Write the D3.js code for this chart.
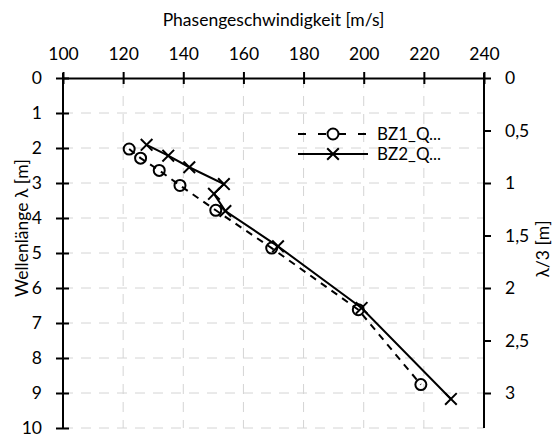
<!DOCTYPE html>
<html>
<head>
<meta charset="utf-8">
<script src="https://cdn.jsdelivr.net/npm/d3@7"></script>
<style>
  body { margin: 0; background: #fff; }
  text { font-family: Lato, "Liberation Sans", sans-serif; fill: #000; }
  .axis path, .axis line { stroke: #000; stroke-width: 2; }
  .grid { stroke: #d4d4d4; stroke-width: 1; stroke-dasharray: 10,8; }
</style>
</head>
<body>
<svg id="chart" width="555" height="437"></svg>
<script>
// top axis: phase velocity
var speedTicks = [100, 120, 140, 160, 180, 200, 220, 240];
// left axis: wavelength
var lambdaTicks = [0, 1, 2, 3, 4, 5, 6, 7, 8, 9, 10];
// right axis: lambda / 3
var thirdTicks = [0, 0.5, 1, 1.5, 2, 2.5, 3];

var seriesNames = ["BZ1_Q...", "BZ2_Q..."];

var bz1Speed = [122, 125.8, 132, 138.9, 150.8, 169.4, 198.2, 219];
var bz1Lambda = [2.03, 2.29, 2.64, 3.07, 3.78, 4.86, 6.62, 8.76];

var bz2Speed = [127.8, 135, 142, 153.5, 150.2, 154, 171.5, 199.3, 229];
var bz2Lambda = [1.91, 2.22, 2.55, 3.03, 3.31, 3.8, 4.81, 6.57, 9.17];

var svg = d3.select("#chart");

var plotL = 63, plotR = 484, plotT = 78, plotB = 428;
var fs = "17.5px";

var x = d3.scaleLinear().domain([100, 240]).range([plotL, plotR]);
var y = d3.scaleLinear().domain([0, 10]).range([plotT, plotB]);
var y3 = d3.scaleLinear().domain([0, 10 / 3]).range([plotT, plotB]);

var comma = d3.formatLocale({decimal: ",", thousands: ".", grouping: [3], currency: ["", "€"]}).format("~g");

// gridlines
svg.append("g").selectAll("line")
    .data(speedTicks.slice(1, -1))
    .enter().append("line")
    .attr("class", "grid")
    .attr("x1", function(d) { return x(d); })
    .attr("x2", function(d) { return x(d); })
    .attr("y1", plotT)
    .attr("y2", plotB);

svg.append("g").selectAll("line")
    .data(lambdaTicks.slice(1))
    .enter().append("line")
    .attr("class", "grid")
    .attr("x1", plotL)
    .attr("x2", plotR)
    .attr("y1", function(d) { return y(d); })
    .attr("y2", function(d) { return y(d); });

// axes
var topAxis = svg.append("g")
    .attr("class", "axis")
    .attr("transform", "translate(0," + plotT + ")")
    .call(d3.axisTop(x).tickValues(speedTicks).tickSize(6).tickSizeOuter(0).tickPadding(12));
topAxis.selectAll(".tick line").attr("y2", -6).attr("y1", 6);
topAxis.selectAll("text").style("font-size", fs);

var leftAxis = svg.append("g")
    .attr("class", "axis")
    .attr("transform", "translate(" + plotL + ",0)")
    .call(d3.axisLeft(y).tickValues(lambdaTicks).tickSize(7).tickSizeOuter(0).tickPadding(14));
leftAxis.selectAll(".tick line").attr("x1", 6).attr("x2", -7);
leftAxis.selectAll("text").style("font-size", fs);

var rightAxis = svg.append("g")
    .attr("class", "axis")
    .attr("transform", "translate(" + plotR + ",0)")
    .call(d3.axisRight(y3).tickValues(thirdTicks).tickSize(7).tickSizeOuter(0).tickPadding(14).tickFormat(comma));
rightAxis.selectAll("text").style("font-size", fs);
rightAxis.select(".domain").attr("d", "M0," + (plotT - 5) + "V" + plotB);
leftAxis.select(".domain").attr("d", "M0," + (plotT - 5) + "V" + plotB);

// titles
svg.append("text")
    .attr("x", (plotL + plotR) / 2)
    .attr("y", 26)
    .attr("text-anchor", "middle")
    .style("font-size", fs)
    .text("Phasengeschwindigkeit [m/s]");

svg.append("text")
    .attr("transform", "translate(28," + 228 + ")rotate(-90)")
    .attr("text-anchor", "middle")
    .style("font-size", fs)
    .text("Wellenlänge λ [m]");

svg.append("text")
    .attr("transform", "translate(549," + 249 + ")rotate(-90)")
    .attr("text-anchor", "middle")
    .style("font-size", fs)
    .text("λ/3 [m]");

// series
var bz1 = bz1Speed.map(function(d, i) { return {v: d, l: bz1Lambda[i]}; });
var bz2 = bz2Speed.map(function(d, i) { return {v: d, l: bz2Lambda[i]}; });

var line = d3.line()
    .x(function(d) { return x(d.v); })
    .y(function(d) { return y(d.l); });

svg.append("path")
    .attr("d", line(bz1))
    .attr("fill", "none")
    .attr("stroke", "#000")
    .attr("stroke-width", 2)
    .attr("stroke-dasharray", "7,6");

svg.append("path")
    .attr("d", line(bz2))
    .attr("fill", "none")
    .attr("stroke", "#000")
    .attr("stroke-width", 2);

svg.append("g").selectAll("circle")
    .data(bz1)
    .enter().append("circle")
    .attr("cx", function(d) { return x(d.v); })
    .attr("cy", function(d) { return y(d.l); })
    .attr("r", 5.5)
    .attr("fill", "none")
    .attr("stroke", "#000")
    .attr("stroke-width", 2);

var cross = d3.symbol().type(d3.symbolX).size(90);
svg.append("g").selectAll("path")
    .data(bz2)
    .enter().append("path")
    .attr("d", cross)
    .attr("transform", function(d) { return "translate(" + x(d.v) + "," + y(d.l) + ")"; })
    .attr("fill", "none")
    .attr("stroke", "#000")
    .attr("stroke-width", 2);

// legend
var legend = svg.append("g").attr("transform", "translate(298,134)");

legend.append("line")
    .attr("x1", 0).attr("x2", 70).attr("y1", 0).attr("y2", 0)
    .attr("stroke", "#000").attr("stroke-width", 2)
    .attr("stroke-dasharray", "8,12");
legend.append("circle")
    .attr("cx", 35).attr("cy", 0).attr("r", 5.5)
    .attr("fill", "#fff").attr("stroke", "#000").attr("stroke-width", 2);
legend.append("line")
    .attr("x1", 0).attr("x2", 70).attr("y1", 20).attr("y2", 20)
    .attr("stroke", "#000").attr("stroke-width", 2);
legend.append("path")
    .attr("d", cross)
    .attr("transform", "translate(35,20)")
    .attr("fill", "none").attr("stroke", "#000").attr("stroke-width", 2);

legend.selectAll("text.lab")
    .data(seriesNames)
    .enter().append("text")
    .attr("class", "lab")
    .attr("x", 79)
    .attr("y", function(d, i) { return i * 20; })
    .attr("dy", "0.35em")
    .style("font-size", "17px")
    .text(function(d) { return d; });
</script>
</body>
</html>
